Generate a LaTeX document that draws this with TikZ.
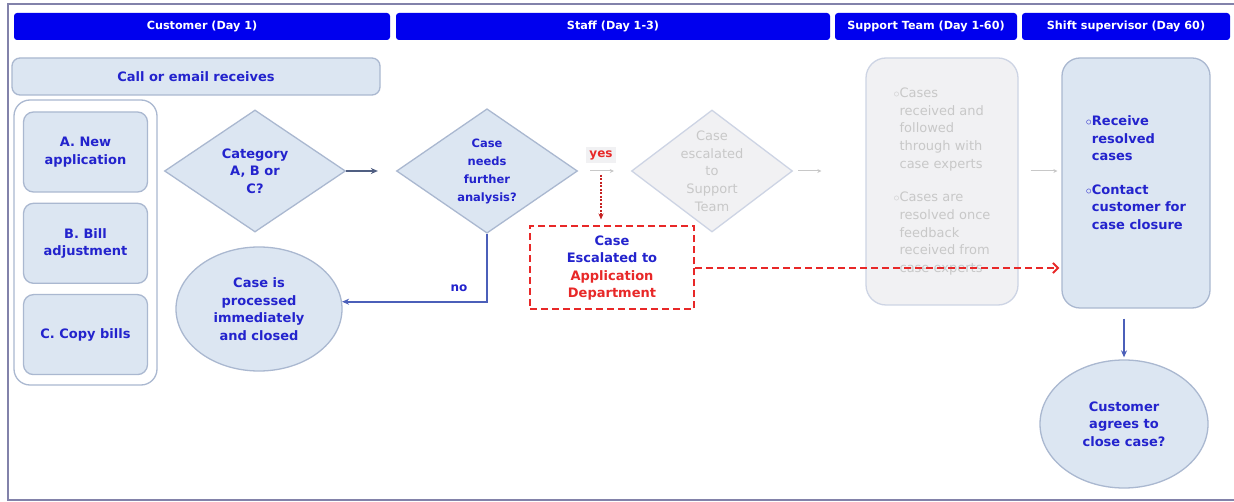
\documentclass[tikz,border=0pt]{standalone}
\usepackage{fontspec}
\setmainfont{DejaVu Sans}
\usetikzlibrary{shapes.geometric,arrows.meta,calc}
\definecolor{lanefill}{RGB}{0,0,238}
\definecolor{boxfill}{RGB}{220,230,242}
\definecolor{boxline}{RGB}{170,184,208}
\definecolor{txtblue}{RGB}{35,35,205}
\definecolor{flowblue}{RGB}{75,95,185}
\definecolor{slateblue}{RGB}{80,95,130}
\definecolor{escred}{RGB}{232,40,40}
\definecolor{fadefill}{RGB}{241,241,243}
\definecolor{fadeline}{RGB}{205,212,228}
\definecolor{fadetxt}{RGB}{200,200,200}
\definecolor{framec}{RGB}{130,130,170}
\newcommand{\ringbul}{{\normalfont$\circ$}}
\tikzset{
  lane/.style={fill=lanefill, rounded corners=3pt, text=white, inner sep=0pt, minimum height=27pt,
    font=\bfseries\fontsize{11.2}{13}\selectfont},
  txt/.style={text=txtblue, align=center, font=\bfseries\fontsize{13}{17.5}\selectfont},
  stepbox/.style={txt, draw=boxline, line width=1.3pt, fill=boxfill, rounded corners=10pt, inner sep=0pt},
  decide/.style={txt, diamond, draw=boxline, line width=1.3pt, fill=boxfill, inner sep=0pt,
    minimum width=181pt, minimum height=122pt},
  endstate/.style={txt, ellipse, draw=boxline, line width=1.3pt, fill=boxfill, inner sep=0pt},
  faded/.style={draw=fadeline, fill=fadefill, text=fadetxt, font=\fontsize{13}{17.7}\selectfont},
  flow/.style={draw=flowblue, line width=1.6pt, -{Stealth[length=7pt,width=6pt]}},
  fadeflow/.style={draw=fadetxt, line width=1pt, -{Stealth[length=4pt,width=4pt]}},
  escflow/.style={draw=escred, line width=2pt, dash pattern=on 7pt off 4pt},
}
\begin{document}
\begin{tikzpicture}[x=1pt, y=-1pt]
\useasboundingbox (0,0) rectangle (1234,502);
\fill[white] (0,0) rectangle (1234,502);
\draw[framec, line width=1.2pt] (1234,4) -- (8,4) -- (8,500) -- (1234,500);

\node[lane, minimum width=376pt] (hCust) at (202,26.5) {Customer (Day 1)};
\node[lane, minimum width=434pt] (hStaff) at (613,26.5) {Staff (Day 1-3)};
\node[lane, minimum width=182pt] (hSupp) at (926,26.5) {Support Team (Day 1-60)};
\node[lane, minimum width=208pt] (hShift) at (1126,26.5) {Shift supervisor (Day 60)};

\node[stepbox, minimum width=368pt, minimum height=37pt, rounded corners=8pt] (call) at (196,76.5) {Call or email receives};
\node[stepbox, fill=white, minimum width=143pt, minimum height=285pt, rounded corners=16pt] (grp) at (85.5,242.5) {};
\node[stepbox, minimum width=124pt, minimum height=80pt, anchor=north] at ($(grp.north)+(0,12)$) (catA) {A. New\\application};
\node[stepbox, minimum width=124pt, minimum height=80pt, anchor=north] at ($(catA.south)+(0,10)$) (catB) {B. Bill\\adjustment};
\node[stepbox, minimum width=124pt, minimum height=80pt, anchor=north] at ($(catB.south)+(0,10)$) (catC) {C. Copy bills};

\node[decide] (cat) at (255,171) {Category\\A, B or\\C?};
\node[decide, font=\bfseries\fontsize{11.5}{18}\selectfont] (need) at (487,171) {Case\\needs\\further\\analysis?};
\node[decide, faded, minimum width=161pt,
  label={[text=fadetxt, align=center, font=\fontsize{13}{17.7}\selectfont]center:Case\\escalated\\to\\Support\\Team}] (supp) at (712,171) {};
\node[endstate, minimum width=166pt, minimum height=124pt] (done) at (259,309) {Case is\\processed\\immediately\\and closed};
\node[txt, escflow, fill=white, inner sep=0pt,
  minimum width=164pt, minimum height=83pt] (esc) at (612,268)
  {Case\\Escalated to\\\textcolor{escred}{Application}\\\textcolor{escred}{Department}};

\node[stepbox, faded, minimum width=152pt, minimum height=247pt, rounded corners=20pt] (res) at (942,181.5)
  {\begin{tabular}{@{}l@{}l@{}}
   \ringbul & Cases\\ & received and\\ & followed\\ & through with\\ & case experts\\[16pt]
   \ringbul & Cases are\\ & resolved once\\ & feedback\\ & received from\\ & case experts
   \end{tabular}};
\node[stepbox, minimum width=148pt, minimum height=250pt, rounded corners=18pt] (shift) at (1136,183)
  {\begin{tabular}{@{}l@{}l@{}}
   \ringbul\ & Receive\\ & resolved\\ & cases\\[16pt]
   \ringbul & Contact\\ & customer for\\ & case closure\\ &
   \end{tabular}};
\node[endstate, minimum width=168pt, minimum height=128pt] (agree) at (1124,424) {Customer\\agrees to\\close case?};

\node[txt, font=\bfseries\fontsize{12}{14}\selectfont] (no) at (459,288) {no};
\node[font=\bfseries\fontsize{12}{14}\selectfont, text=escred, fill=fadefill, inner sep=3pt] (yes) at (601,155) {yes};

\draw[flow, draw=slateblue, shorten >=18pt] (cat) -- (need);
\draw[flow] (need.south) |- (done.5);
\draw[fadeflow, shorten <=12pt, shorten >=17pt] (need) -- (supp);
\draw[draw=escred!85!black, line width=1.6pt, dash pattern=on 2pt off 1.5pt, -{Stealth[length=6pt,width=5pt]},
  shorten <=12pt, shorten >=6pt] (yes.south) -- (yes.south |- esc.north);
\draw[fadeflow, shorten <=5pt, shorten >=44pt] (supp.east) -- (supp.east -| res.west);
\draw[fadeflow, shorten <=12pt, shorten >=4pt] (res.east |- supp.east) -- (supp.east -| shift.west);
\draw[escflow, -{Straight Barb[length=5pt,width=10pt]}, shorten >=2pt] (esc.east) -- (esc.east -| shift.west);
\draw[flow, shorten <=10pt, shorten >=2pt] (agree.north |- shift.south) -- (agree.north);
\end{tikzpicture}
\end{document}
